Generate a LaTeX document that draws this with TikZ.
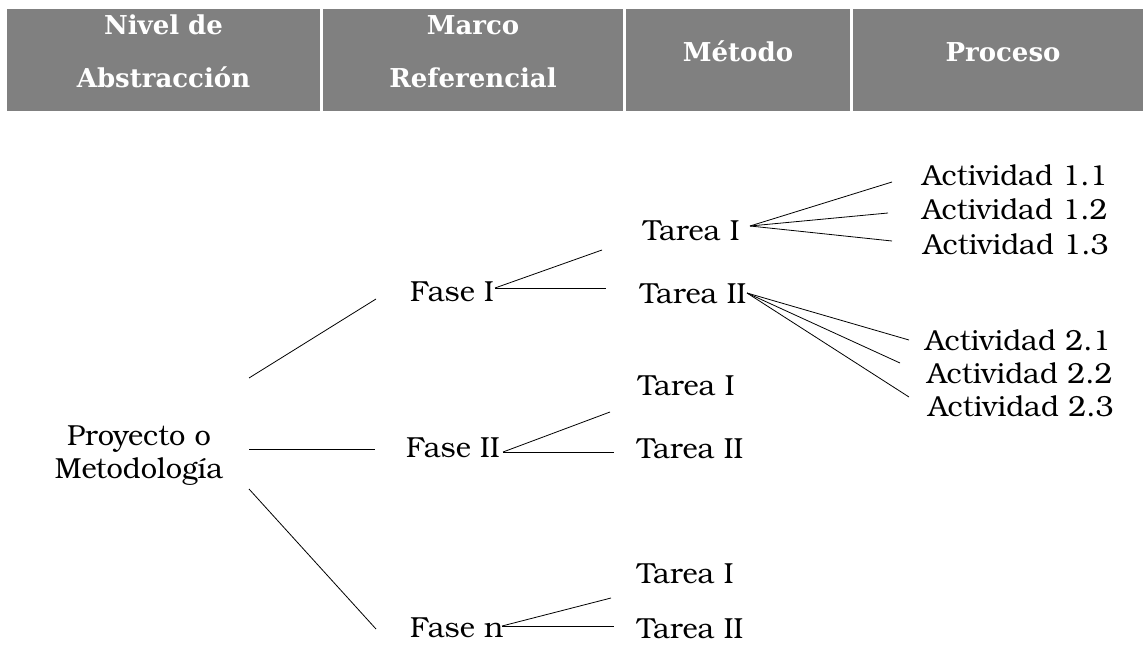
\documentclass[tikz,border=0pt]{standalone}
\usepackage{fontspec}
\setmainfont{TeX Gyre Bonum}
\newfontfamily\headfont{DejaVu Serif}
\definecolor{headgray}{RGB}{128,128,128}
\begin{document}
\begin{tikzpicture}[x=1pt,y=-1pt,
  headtxt/.style={text=white, font=\headfont\bfseries\fontsize{26}{53}\selectfont,
                  align=center, anchor=base, inner sep=0pt},
  lbl/.style={font=\fontsize{29}{33}\selectfont, anchor=base west, inner sep=0pt},
  link/.style={line width=0.8pt, black}]
\useasboundingbox (0,0) rectangle (1143,650);

% header band
\fill[headgray] (7,9) rectangle (320,111);
\fill[headgray] (323,9) rectangle (623,111);
\fill[headgray] (626,9) rectangle (850,111);
\fill[headgray] (853,9) rectangle (1143,111);
% two-line nodes sit on the baseline of their last line
\node[headtxt] (h1) at (163.5,88) {Nivel de\\Abstracción};
\node[headtxt] (h2) at (473,88) {Marco\\Referencial};
\node[headtxt] (h3) at (738,62) {Método};
\node[headtxt] (h4) at (1003,62) {Proceso};

% tree labels
\node[lbl, anchor=base, align=center] (proj) at (139,478) {Proyecto o\\Metodología};
\node[lbl] (f1) at (410,301) {Fase I};
\node[lbl] (f2) at (406,457) {Fase II};
\node[lbl] (fn) at (410,637) {Fase n};
\node[lbl] (t11) at (643,240) {Tarea I};
\node[lbl] (t12) at (640,303) {Tarea II};
\node[lbl] (t21) at (638,395) {Tarea I};
\node[lbl] (t22) at (637,458) {Tarea II};
\node[lbl] (t31) at (637,583) {Tarea I};
\node[lbl] (t32) at (637,638) {Tarea II};
\node[lbl] (a11) at (922,185) {Actividad 1.1};
\node[lbl] (a12) at (922,219) {Actividad 1.2};
\node[lbl] (a13) at (923,254) {Actividad 1.3};
\node[lbl] (a21) at (925,350) {Actividad 2.1};
\node[lbl] (a22) at (927,383) {Actividad 2.2};
\node[lbl] (a23) at (928,416) {Actividad 2.3};

% connector end points
\coordinate (pA) at (249,378);
\coordinate (pB) at (249,449);
\coordinate (pC) at (249,489);
\coordinate (f1in) at (376,299);
\coordinate (f2in) at (375,449);
\coordinate (fnin) at (376,629);
\coordinate (f1out) at (495,288);
\coordinate (f2out) at (503,452);
\coordinate (fnout) at (502,626);
\coordinate (t11in) at (602,250);
\coordinate (t12in) at (606,288);
\coordinate (t21in) at (610,412);
\coordinate (t22in) at (614,452);
\coordinate (t31in) at (611,598);
\coordinate (t32in) at (614,626);
\coordinate (t11out) at (750,226);
\coordinate (t12out) at (747,293);
\coordinate (a11in) at (892,182);
\coordinate (a12in) at (888,213);
\coordinate (a13in) at (892,241);
\coordinate (a21in) at (909,340);
\coordinate (a22in) at (900,363);
\coordinate (a23in) at (909,397);

% connectors
\draw[link] (pA) -- (f1in);
\draw[link] (pB) -- (f2in);
\draw[link] (pC) -- (fnin);
\draw[link] (f1out) -- (t11in);
\draw[link] (f1out) -- (t12in);
\draw[link] (f2out) -- (t21in);
\draw[link] (f2out) -- (t22in);
\draw[link] (fnout) -- (t31in);
\draw[link] (fnout) -- (t32in);
\draw[link] (t11out) -- (a11in);
\draw[link] (t11out) -- (a12in);
\draw[link] (t11out) -- (a13in);
\draw[link] (t12out) -- (a21in);
\draw[link] (t12out) -- (a22in);
\draw[link] (t12out) -- (a23in);
\end{tikzpicture}
\end{document}
